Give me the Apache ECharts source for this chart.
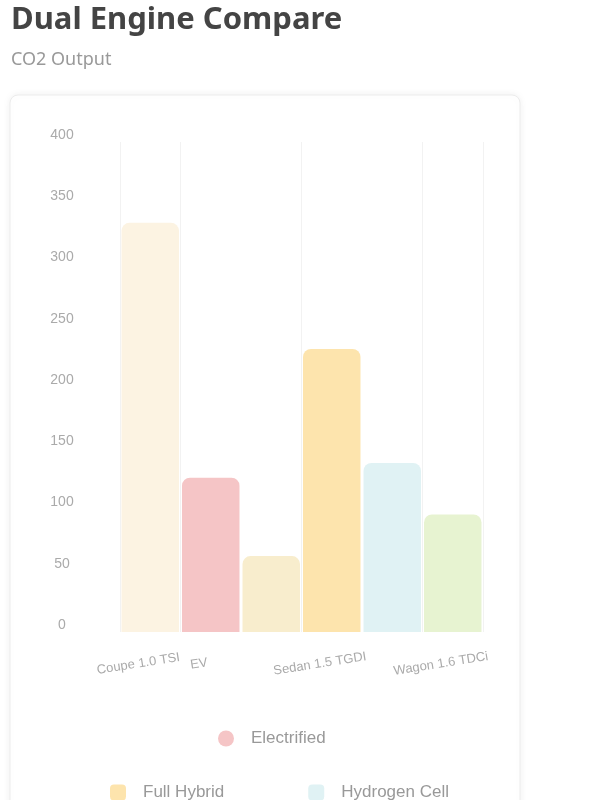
<!DOCTYPE html>
<html>
<head>
<meta charset="utf-8">
<title>Dual Engine Compare</title>
<script src="https://cdn.jsdelivr.net/npm/echarts@6/dist/echarts.min.js"></script>
<style>
    body { margin: 0; background: #fff; }
    #main { width: 592px; height: 800px; }
</style>
</head>
<body>
<div id="main"></div>
<script>
// 数据
var categories = ['Coupe 1.0 TSI', 'EV', 'Hybrid 2.0T', 'Sedan 1.5 TGDI', 'Diesel 2.0D', 'Wagon 1.6 TDCi'];
var seriesNames = ['Gasoline', 'Electrified', 'Mild Hybrid', 'Full Hybrid', 'Hydrogen Cell', 'Diesel'];
var values = [334, 126, 62, 231, 138, 96];
var colors = ['#fcf3e2', '#f5c5c6', '#f8edcd', '#fde4ad', '#e0f2f4', '#e7f3d1'];
var yMax = 400;
var yStep = 50;

// 每个柱子一个系列，方便图例
var series = seriesNames.map(function (name, i) {
    return {
        name: name,
        type: 'bar',
        stack: 'all',
        barCategoryGap: '5%',
        itemStyle: { color: colors[i], borderRadius: [8, 8, 0, 0] },
        data: categories.map(function (c, j) { return j === i ? values[i] : '-'; })
    };
});

var myChart = echarts.init(document.getElementById('main'));
myChart.setOption({
    backgroundColor: '#fff',
    animation: false,
    title: {
        text: 'Dual Engine Compare',
        subtext: 'CO2 Output',
        left: 6,
        top: 0,
        itemGap: 15,
        textStyle: { fontSize: 31, fontWeight: 'bold', color: '#444', fontFamily: 'Noto Sans' },
        subtextStyle: { fontSize: 18, color: '#999', fontFamily: 'Noto Sans' }
    },
    graphic: [{
        type: 'rect',
        z: -10,
        shape: { x: 10, y: 95, width: 510, height: 730, r: 8 },
        style: { fill: '#fff', stroke: '#ececec', lineWidth: 1, shadowBlur: 8, shadowColor: 'rgba(0,0,0,0.06)' }
    }],
    grid: { left: 120, right: 109, top: 142, bottom: 168 },
    xAxis: {
        type: 'category',
        data: categories,
        axisLine: { show: false },
        axisTick: { show: false },
        splitLine: { show: true, lineStyle: { color: '#f2f2f2' } },
        axisLabel: {
            rotate: 9,
            align: 'center',
            margin: 30,
            padding: [0, 24, 0, 0],
            color: '#aaa',
            fontSize: 13,
            interval: function (i) { return i !== 2 && i !== 4; }
        }
    },
    yAxis: {
        type: 'value',
        min: 0,
        max: yMax,
        interval: yStep,
        axisLine: { show: false },
        axisTick: { show: false },
        splitLine: { show: false },
        axisLabel: {
            align: 'center',
            verticalAlign: 'bottom',
            lineHeight: 14,
            margin: 58,
            color: '#aaa',
            fontSize: 14
        }
    },
    legend: [{
        data: [seriesNames[1]],
        left: 213,
        top: 725,
        icon: 'circle',
        itemWidth: 16,
        itemHeight: 16,
        textStyle: { fontSize: 17, color: '#999', padding: [0, 0, 0, 12] }
    }, {
        data: [seriesNames[3], seriesNames[4], seriesNames[0], seriesNames[2], seriesNames[5]],
        left: 105,
        top: 779,
        width: 390,
        icon: 'roundRect',
        itemWidth: 16,
        itemHeight: 16,
        itemGap: 84,
        textStyle: { fontSize: 17, color: '#999', padding: [0, 0, 0, 12] }
    }],
    series: series
});
</script>
</body>
</html>
